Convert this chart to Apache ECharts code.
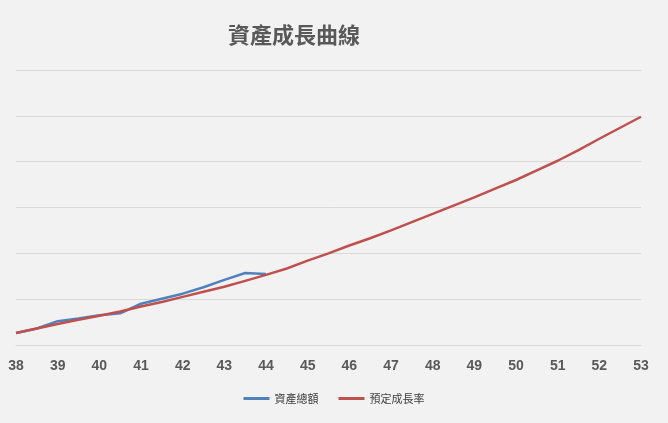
<!DOCTYPE html>
<html>
<head>
<meta charset="UTF-8">
<script src="https://cdn.jsdelivr.net/npm/echarts@6/dist/echarts.min.js"></script>
<style>
  *{margin:0;padding:0}
  html,body{width:100%;height:100%;background:#f2f2f2}
  #main{width:668px;height:423px}
</style>
</head>
<body>
<div id="main"></div>
<script>
// 年齡 (x) 與數值
var ageActual = [38, 38.5, 39, 39.5, 40, 40.5, 41, 41.5, 42, 42.5, 43, 43.5, 44];
var totalAssets = [0.26, 0.36, 0.52, 0.58, 0.65, 0.69, 0.90, 1.01, 1.12, 1.26, 1.42, 1.57, 1.55];
var agePlan = [38, 38.5, 39, 39.5, 40, 40.5, 41, 41.5, 42, 42.5, 43, 43.5, 44, 44.5, 45, 45.5,
  46, 46.5, 47, 47.5, 48, 48.5, 49, 49.5, 50, 50.5, 51, 51.5, 52, 52.5, 53];
var planGrowth = [0.26, 0.36, 0.46, 0.55, 0.64, 0.73, 0.84, 0.94, 1.05, 1.16, 1.27, 1.40, 1.53, 1.67, 1.84, 2.00,
  2.17, 2.33, 2.50, 2.68, 2.86, 3.04, 3.22, 3.41, 3.60, 3.81, 4.02, 4.25, 4.50, 4.74, 4.98];

function pair(xs, ys) {
  return xs.map(function (x, i) { return [x, ys[i]]; });
}

var myChart = echarts.init(document.getElementById('main'));
myChart.setOption({
  backgroundColor: '#f2f2f2',
  title: {
    text: '資產成長曲線',
    left: 289, top: 19, textAlign: 'center',
    textStyle: { fontSize: 22, fontWeight: 'bold', color: '#595959', fontFamily: 'Noto Sans CJK TC' }
  },
  legend: {
    bottom: 14, left: 'center',
    itemWidth: 26, itemHeight: 3, itemGap: 20,
    icon: 'rect',
    textStyle: { fontSize: 11, color: '#404040', fontFamily: 'Noto Sans CJK TC' },
    data: ['資產總額', '預定成長率']
  },
  grid: { left: 16, right: 27, top: 70, bottom: 78 },
  xAxis: {
    type: 'value', min: 38, max: 53, interval: 1,
    axisLine: { show: true, lineStyle: { color: '#d9d9d9' } },
    axisTick: { show: false },
    splitLine: { show: false },
    axisLabel: { color: '#595959', fontSize: 14, fontWeight: 'bold', margin: 14 }
  },
  yAxis: {
    type: 'value', min: 0, max: 6, interval: 1,
    axisLabel: { show: false },
    axisLine: { show: false },
    axisTick: { show: false },
    splitLine: { lineStyle: { color: '#d9d9d9' } }
  },
  series: [
    {
      name: '資產總額', type: 'line', showSymbol: false,
      data: pair(ageActual, totalAssets),
      lineStyle: { width: 2.5, color: '#4f81bd' }, itemStyle: { color: '#4f81bd' }, z: 2
    },
    {
      name: '預定成長率', type: 'line', showSymbol: false,
      data: pair(agePlan, planGrowth),
      lineStyle: { width: 2.5, color: '#c0504d' }, itemStyle: { color: '#c0504d' }, z: 3
    }
  ]
});
</script>
</body>
</html>
